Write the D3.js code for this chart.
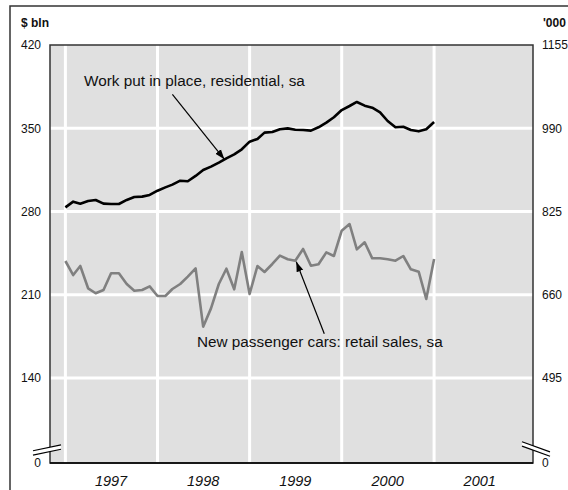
<!DOCTYPE html>
<html>
<head>
<meta charset="utf-8">
<script src="https://cdn.jsdelivr.net/npm/d3@7/dist/d3.min.js"></script>
<style>
  html, body { margin: 0; padding: 0; background: #fff; }
  svg { display: block; font-family: "Liberation Sans", Arial, sans-serif; }
</style>
</head>
<body>
<svg id="chart" width="568" height="490"></svg>
<script>
// Monthly observations, Jan 1997 – Jan 2001
const months = d3.timeMonths(new Date(1997, 0, 1), new Date(2001, 1, 1));

// Construction: work put in place, residential, sa ($ bln, left axis)
const residential = [
  283.5, 288.3, 286.6, 288.8, 289.7, 286.6, 286.3, 286.3, 289.7, 292.2, 292.5, 293.9,
  297.5, 300.3, 302.6, 305.9, 305.4, 309.9, 314.9, 317.7, 321.1, 324.7, 328.1, 332.3,
  338.7, 341.0, 346.3, 346.8, 349.1, 349.9, 348.8, 348.5, 348.0, 350.8, 354.7, 359.2,
  365.3, 368.7, 372.1, 369.0, 367.3, 363.4, 356.1, 350.8, 351.3, 348.5, 347.4, 349.1,
  355.3
];

// New passenger cars: retail sales, sa ('000, right axis)
const carSales = [
  726.9, 699.1, 717.0, 672.8, 662.9, 669.4, 702.5, 702.5, 681.3, 668.0, 669.4, 676.7,
  657.5, 657.5, 671.4, 681.3, 695.8, 712.3, 596.7, 633.0, 681.3, 711.6, 670.8, 744.7,
  661.5, 717.0, 705.1, 721.0, 737.5, 730.3, 727.5, 750.7, 717.6, 720.3, 744.0, 736.8,
  787.0, 800.2, 750.0, 764.0, 732.2, 732.2, 730.3, 727.5, 736.8, 710.4, 705.7, 651.6,
  730.9
];

const years = [1997, 1998, 1999, 2000, 2001];
const leftTicks = [0, 140, 210, 280, 350, 420];
const rightTicks = [0, 495, 660, 825, 990, 1155];

const svg = d3.select("#chart");
const plot = { left: 50, right: 533, top: 45, bottom: 463 };
const ink = "#111";

// Time axis
const x = d3.scaleTime()
  .domain([new Date(1996, 10, 1), new Date(2002, 0, 28)])
  .range([plot.left, plot.right]);

// Broken value axes: the 0 baseline sits one step below the lowest gridline
const yLeft = d3.scaleLinear().domain([0, 140, 420]).range([plot.bottom, 378, plot.top]);
const yRight = d3.scaleLinear().domain([0, 495, 1155]).range([plot.bottom, 378, plot.top]);

// Outer frame
svg.append("path")
  .attr("d", "M10,492 L10,6 L570,6")
  .attr("fill", "none").attr("stroke", "#333").attr("stroke-width", 1.5);

// Plot background
svg.append("rect")
  .attr("x", plot.left).attr("y", plot.top)
  .attr("width", plot.right - plot.left).attr("height", plot.bottom - plot.top)
  .attr("fill", "#e0e0e0");

// Gridlines
const grid = svg.append("g").attr("stroke", "#fff").attr("stroke-width", 3);
grid.selectAll("line.h").data(leftTicks.filter(v => v > 0 && v < 420)).join("line")
  .attr("class", "h")
  .attr("x1", plot.left).attr("x2", plot.right)
  .attr("y1", d => yLeft(d)).attr("y2", d => yLeft(d));
grid.selectAll("line.v").data(years).join("line")
  .attr("class", "v")
  .attr("x1", d => x(new Date(d, 0, 1))).attr("x2", d => x(new Date(d, 0, 1)))
  .attr("y1", plot.top).attr("y2", plot.bottom);

// Plot frame
svg.append("rect")
  .attr("x", plot.left).attr("y", plot.top)
  .attr("width", plot.right - plot.left).attr("height", plot.bottom - plot.top)
  .attr("fill", "none").attr("stroke", "#333").attr("stroke-width", 1.5);
svg.append("line")
  .attr("x1", plot.left).attr("x2", plot.right)
  .attr("y1", plot.bottom).attr("y2", plot.bottom)
  .attr("stroke", "#000").attr("stroke-width", 1.5);

// Axis break symbols
function breakMark(cx, cy, slope) {
  const g = svg.append("g");
  const half = 14, gap = 2.2;
  const pts = [[cx - half, cy + half * slope], [cx + half, cy - half * slope]];
  g.append("polygon")
    .attr("points", [
      [pts[0][0], pts[0][1] - gap], [pts[1][0], pts[1][1] - gap],
      [pts[1][0], pts[1][1] + gap], [pts[0][0], pts[0][1] + gap]
    ].map(p => p.join(",")).join(" "))
    .attr("fill", "#fff");
  [-gap, gap].forEach(o => {
    g.append("line")
      .attr("x1", pts[0][0]).attr("y1", pts[0][1] + o)
      .attr("x2", pts[1][0]).attr("y2", pts[1][1] + o)
      .attr("stroke", "#000").attr("stroke-width", 1.2);
  });
}
breakMark(plot.left - 3, 450, 0.21);
breakMark(plot.right + 3, 449, -0.36);

// Axis labels
const leftAxis = svg.append("g").attr("font-size", 12).attr("fill", ink).attr("text-anchor", "end");
leftAxis.selectAll("text").data(leftTicks).join("text")
  .attr("x", 41).attr("y", d => yLeft(d)).attr("dy", "0.36em")
  .text(d => d);
const rightAxis = svg.append("g").attr("font-size", 12).attr("fill", ink).attr("text-anchor", "start");
rightAxis.selectAll("text").data(rightTicks).join("text")
  .attr("x", 542).attr("y", d => yRight(d)).attr("dy", "0.36em")
  .text(d => d);

svg.append("text").attr("x", 21).attr("y", 27)
  .attr("font-size", 12).attr("font-weight", "bold").attr("fill", ink).text("$ bln");
svg.append("text").attr("x", 543).attr("y", 27)
  .attr("font-size", 12).attr("font-weight", "bold").attr("fill", ink).text("'000");

svg.append("g").attr("font-size", 14.5).attr("font-style", "italic").attr("fill", ink)
  .attr("text-anchor", "middle")
  .selectAll("text").data(years).join("text")
  .attr("x", d => x(new Date(d, 6, 1))).attr("y", 486)
  .text(d => d);

// Series
const lineLeft = d3.line().x((d, i) => x(months[i])).y(d => yLeft(d));
const lineRight = d3.line().x((d, i) => x(months[i])).y(d => yRight(d));

svg.append("path").datum(carSales)
  .attr("d", lineRight)
  .attr("fill", "none").attr("stroke", "#808080").attr("stroke-width", 2.6)
  .attr("stroke-linejoin", "round");
svg.append("path").datum(residential)
  .attr("d", lineLeft)
  .attr("fill", "none").attr("stroke", "#000").attr("stroke-width", 2.6)
  .attr("stroke-linejoin", "round");

// Annotations with arrows pointing at the series
svg.append("defs").append("marker")
  .attr("id", "arrowhead")
  .attr("viewBox", "0 0 10 10").attr("refX", 10).attr("refY", 5)
  .attr("markerWidth", 10).attr("markerHeight", 10)
  .attr("markerUnits", "userSpaceOnUse")
  .attr("orient", "auto")
  .append("path").attr("d", "M0,1.5 L10,5 L0,8.5 Z").attr("fill", "#000");

function annotate(label, tx, ty, tip, tail) {
  svg.append("text").attr("x", tx).attr("y", ty)
    .attr("font-size", 15.3).attr("fill", ink).text(label);
  svg.append("line")
    .attr("x1", tail[0]).attr("y1", tail[1])
    .attr("x2", tip[0]).attr("y2", tip[1])
    .attr("stroke", "#000").attr("stroke-width", 1.2)
    .attr("marker-end", "url(#arrowhead)");
}

const resIdx = 21;   // Oct 1998
const carIdx = 30;   // Jul 1999
const resTip = [x(months[resIdx]) - 2, yLeft(residential[resIdx]) + 1];
const carTip = [x(months[carIdx]) + 1, yRight(carSales[carIdx]) + 1];
annotate("Work put in place, residential, sa", 84, 86, resTip, [resTip[0] - 52, resTip[1] - 65]);
annotate("New passenger cars: retail sales, sa", 197, 347, carTip, [carTip[0] + 28, carTip[1] + 72]);
</script>
</body>
</html>
